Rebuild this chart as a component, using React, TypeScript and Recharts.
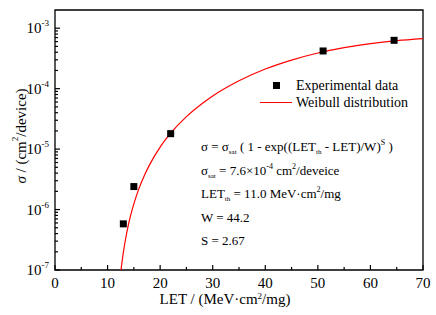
import {
  ComposedChart,
  Line,
  Scatter,
  XAxis,
  YAxis,
  ReferenceArea,
  Legend,
  Label,
} from "recharts";

const LET_POINTS = [13, 15, 22, 51, 64.5];
const SIGMA_POINTS = [5.8e-7, 2.4e-6, 1.8e-5, 4.2e-4, 6.3e-4];

const FIT_LET = [
  12.3, 12.5, 13, 13.5, 14, 15, 16, 17, 18, 20, 22, 25, 28, 30, 35, 40, 45, 50,
  55, 60, 65, 70,
];
const FIT_SIGMA = [
  6.2e-8, 9.1e-8, 1.95e-7, 3.55e-7, 5.8e-7, 1.24e-6, 2.26e-6, 3.67e-6, 5.53e-6,
  1.08e-5, 1.83e-5, 3.45e-5, 5.7e-5, 7.57e-5, 1.35e-4, 2.11e-4, 2.97e-4,
  3.89e-4, 4.77e-4, 5.56e-4, 6.22e-4, 6.73e-4,
];

const X_TICKS = [0, 5, 10, 15, 20, 25, 30, 35, 40, 45, 50, 55, 60, 65, 70];
const Y_DECADES = [-7, -6, -5, -4, -3];
const Y_MINOR = [2, 3, 4, 5, 6, 7, 8, 9];

const points = LET_POINTS.map((let_, i) => ({ let: let_, sigma: SIGMA_POINTS[i] }));
const curve = FIT_LET.map((let_, i) => ({ let: let_, sigma: FIT_SIGMA[i] }));

const yTicks: number[] = [];
Y_DECADES.forEach((d) => {
  yTicks.push(Number(`1e${d}`));
  if (d < -3) Y_MINOR.forEach((m) => yTicks.push(Number(`${m}e${d}`)));
});
yTicks.push(2e-3);

const FONT = "'Liberation Serif', 'Times New Roman', serif";

function XTick({ x, y, payload }: any) {
  const v = payload.value;
  const major = v % 10 === 0;
  return (
    <g>
      <line x1={x} x2={x} y1={y} y2={y - (major ? 5 : 3)} stroke="#000" strokeWidth={1.2} />
      {major && (
        <text x={x} y={y + 18} textAnchor="middle" fontSize={15} fontFamily={FONT} fill="#000">
          {v}
        </text>
      )}
    </g>
  );
}

function YTick({ x, y, payload }: any) {
  const v = payload.value;
  const lg = Math.log10(v);
  const major = Math.abs(lg - Math.round(lg)) < 1e-6;
  if (v > 1.5e-3) return null;
  return (
    <g>
      <line x1={x} x2={x + (major ? 5 : 3)} y1={y} y2={y} stroke="#000" strokeWidth={1.2} />
      {major && (
        <text x={x - 6} y={y + 5} textAnchor="end" fontSize={15} fontFamily={FONT} fill="#000">
          10
          <tspan dy={-7} fontSize={9}>
            {Math.round(lg)}
          </tspan>
        </text>
      )}
    </g>
  );
}

function SquareDot({ cx, cy }: any) {
  return <rect x={cx - 3.5} y={cy - 3.5} width={7} height={7} fill="#000" />;
}

function LegendBox() {
  return (
    <div style={{ fontFamily: FONT, fontSize: 14, color: "#000", lineHeight: "17px" }}>
      <div style={{ display: "flex", alignItems: "center" }}>
        <div style={{ width: 32, display: "flex", justifyContent: "center" }}>
          <div style={{ width: 7, height: 7, background: "#000" }} />
        </div>
        <span style={{ marginLeft: 4 }}>Experimental data</span>
      </div>
      <div style={{ display: "flex", alignItems: "center" }}>
        <div style={{ width: 32, height: 1.2, background: "#ff0000" }} />
        <span style={{ marginLeft: 4 }}>Weibull distribution</span>
      </div>
    </div>
  );
}

const sub = { fontSize: 7, verticalAlign: "-3px", lineHeight: 0 } as const;
const sup = { fontSize: 8, verticalAlign: "6px", lineHeight: 0 } as const;
const row = { height: 23.5, lineHeight: "23.5px", overflow: "visible" } as const;

export default function App() {
  return (
    <div style={{ position: "absolute", left: 0, top: 0, width: 436, height: 315, background: "#fff" }}>
      <ComposedChart
        width={436}
        height={315}
        margin={{ top: 10, right: 13, bottom: 0, left: 0 }}
      >
        <XAxis
          dataKey="let"
          type="number"
          domain={[0, 70]}
          ticks={X_TICKS}
          interval={0}
          allowDataOverflow
          axisLine={false}
          tickLine={false}
          tickSize={0}
          tickMargin={0}
          tick={<XTick />}
          height={45}
        >
          <Label
            content={({ viewBox }: any) => (
              <text
                x={viewBox.x + viewBox.width / 2 - 14}
                y={viewBox.y + 34}
                textAnchor="middle"
                fontSize={15}
                fontFamily={FONT}
                fill="#000"
              >
                LET / (MeV·cm
                <tspan dy={-5} fontSize={9}>2</tspan>
                <tspan dy={5}>/mg)</tspan>
              </text>
            )}
          />
        </XAxis>
        <YAxis
          dataKey="sigma"
          type="number"
          scale="log"
          domain={[1e-7, 2e-3]}
          ticks={yTicks}
          interval={0}
          allowDataOverflow
          axisLine={false}
          tickLine={false}
          tickSize={0}
          tickMargin={0}
          tick={<YTick />}
          width={55}
        >
          <Label
            content={() => {
              const cx = 21;
              const cy = 136;
              return (
                <text
                  x={cx}
                  y={cy}
                  transform={`rotate(-90, ${cx}, ${cy})`}
                  textAnchor="middle"
                  dominantBaseline="central"
                  fontSize={15}
                  fontFamily={FONT}
                  fill="#000"
                >
                  <tspan fontStyle="italic">σ</tspan> / (cm
                  <tspan dy={-6} fontSize={9}>2</tspan>
                  <tspan dy={6}>/device)</tspan>
                </text>
              );
            }}
          />
        </YAxis>
        <ReferenceArea
          x1={0}
          x2={70}
          y1={1e-7}
          y2={2e-3}
          fill="none"
          stroke="#000"
          strokeWidth={1.3}
          ifOverflow="visible"
        />
        <Line
          data={curve}
          dataKey="sigma"
          type="monotone"
          stroke="#ff0000"
          strokeWidth={1.2}
          dot={false}
          activeDot={false}
          isAnimationActive={false}
          legendType="line"
        />
        <Scatter
          data={points}
          dataKey="sigma"
          fill="#000"
          shape={<SquareDot />}
          isAnimationActive={false}
        />
        <Legend
          layout="horizontal"
          align="center"
          verticalAlign="middle"
          content={<LegendBox />}
          wrapperStyle={{ position: "absolute", left: 260, top: 77, width: "auto", height: "auto" }}
        />
      </ComposedChart>
      <div
        style={{
          position: "absolute",
          left: 201,
          top: 135,
          fontFamily: FONT,
          fontSize: 13,
          color: "#000",
          whiteSpace: "nowrap",
        }}
      >
        <div style={row}>
          σ = σ<span style={sub}>sat</span> ( 1 - exp((LET<span style={sub}>th</span> - LET)/W)
          <span style={sup}>S</span> )
        </div>
        <div style={row}>
          σ<span style={sub}>sat</span> = 7.6×10<span style={sup}>-4</span> cm<span style={sup}>2</span>/deveice
        </div>
        <div style={row}>
          LET<span style={sub}>th</span> = 11.0 MeV·cm<span style={sup}>2</span>/mg
        </div>
        <div style={row}>W = 44.2</div>
        <div style={row}>S = 2.67</div>
      </div>
    </div>
  );
}
